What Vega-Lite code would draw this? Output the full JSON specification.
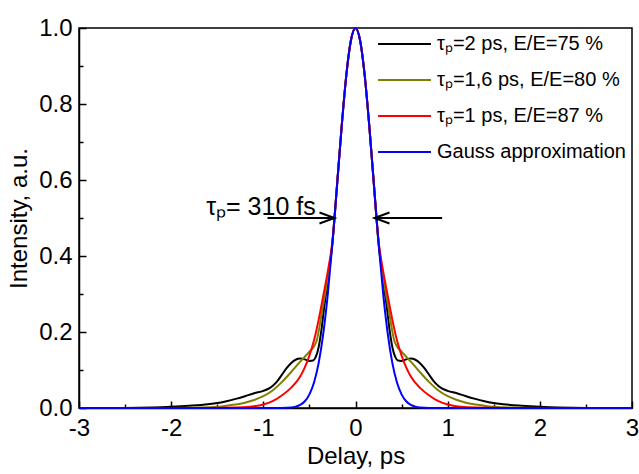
{
  "$schema": "https://vega.github.io/schema/vega-lite/v6.json",
  "width": 553,
  "height": 380,
  "autosize": {"type": "none"},
  "padding": {"left": 79, "top": 28, "right": 7, "bottom": 66},
  "config": {
    "font": "Liberation Sans",
    "view": {"stroke": "black", "strokeWidth": 1.5},
    "axis": {"grid": false, "domainColor": "black", "domainWidth": 1.5, "tickColor": "black", "tickWidth": 1.5, "labelColor": "black", "titleColor": "black", "labelFontSize": 24, "titleFontSize": 24, "titleFontWeight": "normal", "labelFlush": false, "labelOverlap": false, "labelFont": "Liberation Sans", "titleFont": "Liberation Sans"}
  },
  "encoding": {
    "x": {"field": "t", "type": "quantitative", "scale": {"domain": [-3, 3], "nice": false, "zero": false},
      "axis": {"title": "Delay, ps", "values": [-3, -2.5, -2, -1.5, -1, -0.5, 0, 0.5, 1, 1.5, 2, 2.5, 3],
        "labelExpr": "datum.value % 1 == 0 ? '' + datum.value : ''",
        "tickSize": {"condition": {"test": "datum.value % 1 == 0", "value": -7}, "value": -4},
        "labelPadding": 15, "titlePadding": 1}},
    "y": {"field": "v", "type": "quantitative", "scale": {"domain": [0, 1], "nice": false},
      "axis": {"title": "Intensity, a.u.", "values": [0, 0.1, 0.2, 0.3, 0.4, 0.5, 0.6, 0.7, 0.8, 0.9, 1],
        "labelExpr": "round(datum.value*10) % 2 == 0 ? format(datum.value, '.1f') : ''",
        "tickSize": {"condition": {"test": "round(datum.value*10) % 2 == 0", "value": -7}, "value": -4},
        "labelPadding": 14, "titlePadding": 7}}
  },
  "layer": [
    {
      "data": {"values": [
        {"t": -3, "v": 0}, {"t": -2.5, "v": 0}, {"t": -2.2, "v": 0.001}, {"t": -2, "v": 0.003}, {"t": -1.8, "v": 0.006},
        {"t": -1.6, "v": 0.010}, {"t": -1.5, "v": 0.013}, {"t": -1.4, "v": 0.018}, {"t": -1.3, "v": 0.024}, {"t": -1.2, "v": 0.031},
        {"t": -1.1, "v": 0.039}, {"t": -1, "v": 0.045}, {"t": -0.95, "v": 0.050}, {"t": -0.9, "v": 0.058}, {"t": -0.85, "v": 0.070},
        {"t": -0.8, "v": 0.087}, {"t": -0.75, "v": 0.104}, {"t": -0.7, "v": 0.118}, {"t": -0.65, "v": 0.127}, {"t": -0.6, "v": 0.130},
        {"t": -0.55, "v": 0.128}, {"t": -0.5, "v": 0.124}, {"t": -0.46, "v": 0.125}, {"t": -0.43, "v": 0.135}, {"t": -0.4, "v": 0.160},
        {"t": -0.37, "v": 0.205}, {"t": -0.34, "v": 0.265}, {"t": -0.3, "v": 0.335}, {"t": -0.25, "v": 0.435}, {"t": -0.2, "v": 0.587},
        {"t": -0.15, "v": 0.741}, {"t": -0.1, "v": 0.875}, {"t": -0.05, "v": 0.967}, {"t": 0, "v": 1},
        {"t": 0.05, "v": 0.967}, {"t": 0.1, "v": 0.875}, {"t": 0.15, "v": 0.741}, {"t": 0.2, "v": 0.587}, {"t": 0.25, "v": 0.435},
        {"t": 0.3, "v": 0.335}, {"t": 0.34, "v": 0.265}, {"t": 0.37, "v": 0.205}, {"t": 0.4, "v": 0.160}, {"t": 0.43, "v": 0.135},
        {"t": 0.46, "v": 0.125}, {"t": 0.5, "v": 0.124}, {"t": 0.55, "v": 0.128}, {"t": 0.6, "v": 0.130}, {"t": 0.65, "v": 0.127},
        {"t": 0.7, "v": 0.118}, {"t": 0.75, "v": 0.104}, {"t": 0.8, "v": 0.087}, {"t": 0.85, "v": 0.070}, {"t": 0.9, "v": 0.058},
        {"t": 0.95, "v": 0.050}, {"t": 1, "v": 0.045}, {"t": 1.1, "v": 0.039}, {"t": 1.2, "v": 0.031}, {"t": 1.3, "v": 0.024},
        {"t": 1.4, "v": 0.018}, {"t": 1.5, "v": 0.013}, {"t": 1.6, "v": 0.010}, {"t": 1.8, "v": 0.006}, {"t": 2, "v": 0.003},
        {"t": 2.2, "v": 0.001}, {"t": 2.5, "v": 0}, {"t": 3, "v": 0}
      ]},
      "mark": {"type": "line", "strokeWidth": 2, "interpolate": "monotone"},
      "encoding": {"color": {"datum": "τₚ=2 ps, E/E=75 %", "type": "nominal",
        "scale": {"domain": ["τₚ=2 ps, E/E=75 %", "τₚ=1,6 ps, E/E=80 %", "τₚ=1 ps, E/E=87 %", "Gauss approximation"], "range": ["#000000", "#808000", "#ff0000", "#0000ff"]},
        "legend": {"title": null, "orient": "none", "legendX": 298, "legendY": -2, "symbolType": "stroke", "symbolSize": 2800, "symbolStrokeWidth": 2, "labelFontSize": 20, "labelFont": "Liberation Sans", "labelColor": "black", "rowPadding": 0, "clipHeight": 36, "labelOffset": 5, "labelLimit": 0}}}
    },
    {
      "data": {"values": [
        {"t": -3, "v": 0}, {"t": -2, "v": 0}, {"t": -1.7, "v": 0.001}, {"t": -1.5, "v": 0.003}, {"t": -1.4, "v": 0.006},
        {"t": -1.3, "v": 0.009}, {"t": -1.2, "v": 0.014}, {"t": -1.1, "v": 0.021}, {"t": -1, "v": 0.031}, {"t": -0.9, "v": 0.046},
        {"t": -0.8, "v": 0.068}, {"t": -0.7, "v": 0.094}, {"t": -0.6, "v": 0.122}, {"t": -0.55, "v": 0.135}, {"t": -0.5, "v": 0.148},
        {"t": -0.45, "v": 0.162}, {"t": -0.42, "v": 0.178}, {"t": -0.39, "v": 0.215}, {"t": -0.36, "v": 0.26}, {"t": -0.33, "v": 0.30},
        {"t": -0.3, "v": 0.345}, {"t": -0.25, "v": 0.435}, {"t": -0.2, "v": 0.587}, {"t": -0.15, "v": 0.741}, {"t": -0.1, "v": 0.875},
        {"t": -0.05, "v": 0.967}, {"t": 0, "v": 1},
        {"t": 0.05, "v": 0.967}, {"t": 0.1, "v": 0.875}, {"t": 0.15, "v": 0.741}, {"t": 0.2, "v": 0.587}, {"t": 0.25, "v": 0.435},
        {"t": 0.3, "v": 0.345}, {"t": 0.33, "v": 0.30}, {"t": 0.36, "v": 0.26}, {"t": 0.39, "v": 0.215}, {"t": 0.42, "v": 0.178},
        {"t": 0.45, "v": 0.162}, {"t": 0.5, "v": 0.148}, {"t": 0.55, "v": 0.135}, {"t": 0.6, "v": 0.122}, {"t": 0.7, "v": 0.094},
        {"t": 0.8, "v": 0.068}, {"t": 0.9, "v": 0.046}, {"t": 1, "v": 0.031}, {"t": 1.1, "v": 0.021}, {"t": 1.2, "v": 0.014},
        {"t": 1.3, "v": 0.009}, {"t": 1.4, "v": 0.006}, {"t": 1.5, "v": 0.003}, {"t": 1.7, "v": 0.001}, {"t": 2, "v": 0}, {"t": 3, "v": 0}
      ]},
      "mark": {"type": "line", "strokeWidth": 2, "interpolate": "monotone"},
      "encoding": {"color": {"datum": "τₚ=1,6 ps, E/E=80 %", "type": "nominal"}}
    },
    {
      "data": {"values": [
        {"t": -3, "v": 0}, {"t": -1.6, "v": 0}, {"t": -1.3, "v": 0.001}, {"t": -1.15, "v": 0.003}, {"t": -1, "v": 0.009},
        {"t": -0.9, "v": 0.018}, {"t": -0.8, "v": 0.033}, {"t": -0.7, "v": 0.053}, {"t": -0.6, "v": 0.083}, {"t": -0.55, "v": 0.107},
        {"t": -0.5, "v": 0.138}, {"t": -0.45, "v": 0.178}, {"t": -0.4, "v": 0.232}, {"t": -0.35, "v": 0.295}, {"t": -0.3, "v": 0.36},
        {"t": -0.25, "v": 0.44}, {"t": -0.2, "v": 0.587}, {"t": -0.15, "v": 0.741}, {"t": -0.1, "v": 0.875}, {"t": -0.05, "v": 0.967},
        {"t": 0, "v": 1},
        {"t": 0.05, "v": 0.967}, {"t": 0.1, "v": 0.875}, {"t": 0.15, "v": 0.741}, {"t": 0.2, "v": 0.587}, {"t": 0.25, "v": 0.44},
        {"t": 0.3, "v": 0.36}, {"t": 0.35, "v": 0.295}, {"t": 0.4, "v": 0.232}, {"t": 0.45, "v": 0.178}, {"t": 0.5, "v": 0.138},
        {"t": 0.55, "v": 0.107}, {"t": 0.6, "v": 0.083}, {"t": 0.7, "v": 0.053}, {"t": 0.8, "v": 0.033}, {"t": 0.9, "v": 0.018},
        {"t": 1, "v": 0.009}, {"t": 1.15, "v": 0.003}, {"t": 1.3, "v": 0.001}, {"t": 1.6, "v": 0}, {"t": 3, "v": 0}
      ]},
      "mark": {"type": "line", "strokeWidth": 2, "interpolate": "monotone"},
      "encoding": {"color": {"datum": "τₚ=1 ps, E/E=87 %", "type": "nominal"}}
    },
    {
      "data": {"values": [
        {"t": -3, "v": 0}, {"t": -1, "v": 0}, {"t": -0.8, "v": 0.0002}, {"t": -0.7, "v": 0.0015}, {"t": -0.65, "v": 0.0036},
        {"t": -0.6, "v": 0.0082}, {"t": -0.55, "v": 0.0177}, {"t": -0.5, "v": 0.036}, {"t": -0.45, "v": 0.067}, {"t": -0.4, "v": 0.118},
        {"t": -0.35, "v": 0.195}, {"t": -0.3, "v": 0.301}, {"t": -0.25, "v": 0.435}, {"t": -0.2, "v": 0.587}, {"t": -0.15, "v": 0.741},
        {"t": -0.1, "v": 0.875}, {"t": -0.05, "v": 0.967}, {"t": 0, "v": 1},
        {"t": 0.05, "v": 0.967}, {"t": 0.1, "v": 0.875}, {"t": 0.15, "v": 0.741}, {"t": 0.2, "v": 0.587}, {"t": 0.25, "v": 0.435},
        {"t": 0.3, "v": 0.301}, {"t": 0.35, "v": 0.195}, {"t": 0.4, "v": 0.118}, {"t": 0.45, "v": 0.067}, {"t": 0.5, "v": 0.036},
        {"t": 0.55, "v": 0.0177}, {"t": 0.6, "v": 0.0082}, {"t": 0.65, "v": 0.0036}, {"t": 0.7, "v": 0.0015}, {"t": 0.8, "v": 0.0002},
        {"t": 1, "v": 0}, {"t": 3, "v": 0}
      ]},
      "mark": {"type": "line", "strokeWidth": 2, "interpolate": "monotone"},
      "encoding": {"color": {"datum": "Gauss approximation", "type": "nominal"}}
    },
    {
      "data": {"values": [
        {"t": -0.955, "t2": -0.228, "v": 0.5, "dir": "r"},
        {"t": 0.94, "t2": 0.206, "v": 0.5, "dir": "l"}
      ]},
      "mark": {"type": "rule", "strokeWidth": 2, "color": "black"},
      "encoding": {"x2": {"field": "t2"}}
    },
    {
      "data": {"values": [
        {"t": -0.228, "v": 0.5, "dir": "r"},
        {"t": 0.206, "v": 0.5, "dir": "l"}
      ]},
      "mark": {"type": "point", "filled": false, "stroke": "black", "strokeWidth": 2, "size": 900, "opacity": 1},
      "encoding": {"shape": {"field": "dir", "type": "nominal", "scale": {"domain": ["r", "l"], "range": ["M-1,-0.37L0,0L-1,0.37", "M1,-0.37L0,0L1,0.37"]}, "legend": null}}
    },
    {
      "data": {"values": [{"t": -1.62, "v": 0.508, "label": "τₚ= 310 fs"}]},
      "mark": {"type": "text", "align": "left", "baseline": "alphabetic", "fontSize": 25, "font": "Liberation Sans", "color": "black"},
      "encoding": {"text": {"field": "label"}}
    }
  ]
}
